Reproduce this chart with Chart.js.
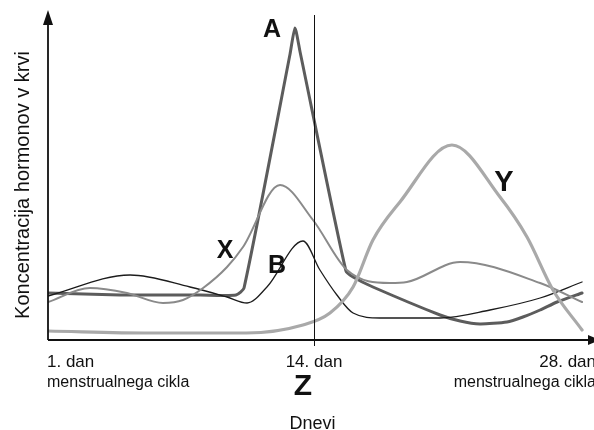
<!DOCTYPE html>
<html lang="sl">
<head>
<meta charset="utf-8">
<title>Koncentracija hormonov v krvi</title>
<script src="https://cdn.jsdelivr.net/npm/chart.js@4/dist/chart.umd.min.js"></script>
<style>
  html, body { margin: 0; padding: 0; background: #fff; }
  #wrap { width: 594px; height: 430px; position: relative; }
</style>
</head>
<body>
<div id="wrap"><canvas id="hormones" width="594" height="430"></canvas></div>
<script>
// days of the cycle (x) and relative concentration (y)
var daysA = [1, 4.52, 8.43, 10.19, 10.58, 12.83, 13.07, 13.32, 15.56, 15.91, 16.88, 20.16, 21.14, 22.11, 23.43, 24.21, 25.05, 25.88, 27.1];
var valsA = [47, 45, 45, 45, 52, 286, 312, 288, 69, 63, 53, 25, 19, 16, 18, 23, 30, 38, 47];

var daysX = [1, 3.05, 4.86, 6.62, 7.6, 8.58, 9.75, 10.53, 12.34, 13.95, 15.61, 17.71, 18.54, 21.14, 25.05, 27.1];
var valsX = [38, 52, 47, 37, 40, 52, 73, 93, 155, 120, 70, 57, 58, 78, 57, 38];

var daysB = [1, 5.01, 7.94, 9.75, 10.73, 11.7, 13.46, 14.29, 15.12, 15.91, 17.23, 20.16, 22.6, 25.05, 27.1];
var valsB = [44, 65, 53, 43, 37, 53, 99, 70, 45, 27, 22, 22, 30, 42, 58];

var daysY = [1, 6, 10.7, 13.46, 14.78, 15.91, 16.88, 18.2, 20.74, 23.09, 24.41, 25.68, 27.1];
var valsY = [9, 7, 7, 15, 27, 53, 100, 138, 195, 143, 103, 50, 10];

var tickDays = [1, 14, 28];
var tickLabels = ["1. dan", "14. dan", "28. dan"];
var tickSub = "menstrualnega cikla";
var ovulationDay = 14;

(function () {
  "use strict";

  var FONT = "'Liberation Sans', Arial, sans-serif";

  function pts(xs, ys) {
    return xs.map(function (x, i) { return { x: x, y: ys[i] }; });
  }

  function line(label, xs, ys, color, width, opts) {
    var ds = {
      label: label,
      data: pts(xs, ys),
      borderColor: color,
      borderWidth: width,
      pointRadius: 0,
      fill: false,
      borderCapStyle: "round",
      borderJoinStyle: "round"
    };
    for (var k in opts) ds[k] = opts[k];
    return ds;
  }

  function text(ctx, str, x, y, font, align) {
    ctx.font = font;
    ctx.textAlign = align || "center";
    ctx.textBaseline = "alphabetic";
    ctx.fillText(str, x, y);
  }

  var decor = {
    id: "decor",
    afterDatasetsDraw: function (chart) {
      var ctx = chart.ctx;
      var a = chart.chartArea;
      var xs = chart.scales.x;
      ctx.save();
      ctx.strokeStyle = "#111";
      ctx.fillStyle = "#111";

      // axes
      ctx.lineWidth = 1.8;
      ctx.beginPath();
      ctx.moveTo(a.left, a.bottom);
      ctx.lineTo(a.left, a.top + 12);
      ctx.moveTo(a.left, a.bottom);
      ctx.lineTo(a.right - 5, a.bottom);
      ctx.stroke();

      ctx.beginPath();
      ctx.moveTo(a.left, a.top);
      ctx.lineTo(a.left - 5, a.top + 15);
      ctx.lineTo(a.left + 5, a.top + 15);
      ctx.closePath();
      ctx.fill();

      ctx.beginPath();
      ctx.moveTo(a.right + 6, a.bottom);
      ctx.lineTo(a.right - 6, a.bottom - 5);
      ctx.lineTo(a.right - 6, a.bottom + 5);
      ctx.closePath();
      ctx.fill();

      // ovulation line
      var zx = Math.round(xs.getPixelForValue(ovulationDay)) + 0.5;
      ctx.lineWidth = 1;
      ctx.beginPath();
      ctx.moveTo(zx, a.top + 5);
      ctx.lineTo(zx, a.bottom + 6);
      ctx.stroke();

      // tick labels
      var aligns = ["left", "center", "right"];
      tickDays.forEach(function (d, i) {
        var px = i === 0 ? a.left - 1 : (i === 2 ? a.right + 2 : xs.getPixelForValue(d));
        text(ctx, tickLabels[i], px, a.bottom + 27, "17px " + FONT, aligns[i]);
      });
      text(ctx, tickSub, a.left - 1, a.bottom + 47, "16px " + FONT, "left");
      text(ctx, tickSub, a.right + 2, a.bottom + 47, "16px " + FONT, "right");

      // axis titles
      text(ctx, "Dnevi", zx - 2, 429, "18px " + FONT, "center");
      ctx.save();
      ctx.translate(29, 185);
      ctx.rotate(-Math.PI / 2);
      text(ctx, "Koncentracija hormonov v krvi", 0, 0, "20px " + FONT, "center");
      ctx.restore();

      // curve letters
      text(ctx, "A", 272, 37, "bold 25px " + FONT);
      text(ctx, "X", 225, 258, "bold 25px " + FONT);
      text(ctx, "B", 277, 273, "bold 25px " + FONT);
      text(ctx, "Y", 504, 191, "bold 29px " + FONT);
      text(ctx, "Z", 303, 395, "bold 30px " + FONT);

      ctx.restore();
    }
  };

  new Chart(document.getElementById("hormones"), {
    type: "line",
    data: {
      datasets: [
        line("Y", daysY, valsY, "#a9a9a9", 3.2, { cubicInterpolationMode: "monotone" }),
        line("X", daysX, valsX, "#8a8a8a", 2, { cubicInterpolationMode: "monotone" }),
        line("B", daysB, valsB, "#1c1c1c", 1.3, { cubicInterpolationMode: "monotone" }),
        line("A", daysA, valsA, "#5c5c5c", 3, { tension: 0.2 })
      ]
    },
    options: {
      responsive: false,
      animation: false,
      layout: { padding: { left: 48, right: 0, top: 10, bottom: 90 } },
      plugins: { legend: { display: false }, tooltip: { enabled: false } },
      scales: {
        x: { type: "linear", min: 1, max: 1 + 546 / 20.4615, display: false },
        y: { min: 0, max: 330, display: false }
      }
    },
    plugins: [decor]
  });
})();
</script>
</body>
</html>
